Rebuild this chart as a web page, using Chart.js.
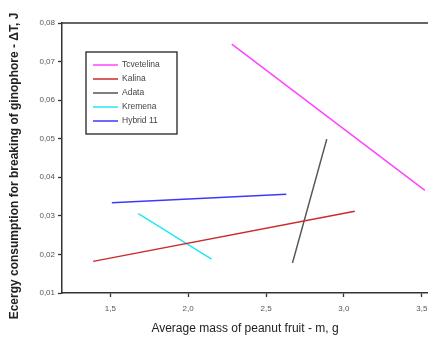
<!DOCTYPE html>
<html>
<head>
<meta charset="utf-8">
<script src="https://cdn.jsdelivr.net/npm/chart.js@4/dist/chart.umd.min.js"></script>
<style>
  html, body { margin: 0; padding: 0; background: #fff; }
  #wrap { width: 428px; height: 337px; position: relative; }
</style>
</head>
<body>
<div id="wrap"><canvas id="c"></canvas></div>
<script>
// ---- data ----
const seriesNames = ["Tcvetelina", "Kalina", "Adata", "Kremena", "Hybrid 11"];
const tcvetelinaX = [2.28, 3.52];
const tcvetelinaY = [0.0745, 0.0366];
const kalinaX = [1.39, 3.07];
const kalinaY = [0.0182, 0.0312];
const adataX = [2.67, 2.89];
const adataY = [0.0178, 0.0499];
const kremenaX = [1.68, 2.15];
const kremenaY = [0.0306, 0.0188];
const hybridX = [1.51, 2.63];
const hybridY = [0.0334, 0.0356];
const xTicks = [1.5, 2.0, 2.5, 3.0, 3.5];
const yTicks = [0.01, 0.02, 0.03, 0.04, 0.05, 0.06, 0.07, 0.08];
const xTitle = "Average mass of peanut fruit - m, g";
const yTitle = "Ecergy consumption for breaking of ginophore - \u0394T, J";

const colors = ["#ff44ff", "#cc2a2a", "#555555", "#22e8f0", "#3a3aff"];
const xs = [tcvetelinaX, kalinaX, adataX, kremenaX, hybridX];
const ys = [tcvetelinaY, kalinaY, adataY, kremenaY, hybridY];

const datasets = seriesNames.map((n, i) => ({
  label: n,
  data: xs[i].map((x, j) => ({ x: x, y: ys[i][j] })),
  borderColor: colors[i],
  backgroundColor: colors[i],
  borderWidth: 1.5,
  pointRadius: 0,
  showLine: true,
  fill: false,
  tension: 0
}));

const FONT = "'Liberation Sans', Arial, sans-serif";
const comma = (v, d) => v.toFixed(d).replace('.', ',');

const framePlugin = {
  id: 'frame',
  afterDraw(chart) {
    const { ctx, chartArea: a } = chart;
    ctx.save();
    // top border of the plot frame
    ctx.strokeStyle = '#333';
    ctx.lineWidth = 1.5;
    ctx.beginPath();
    ctx.moveTo(a.left, a.top);
    ctx.lineTo(a.right, a.top);
    ctx.stroke();
    // y axis title (rotated)
    ctx.save();
    ctx.translate(15, 166);
    ctx.rotate(-Math.PI / 2);
    ctx.font = "bold 12px " + FONT;
    ctx.fillStyle = '#222';
    ctx.textAlign = 'center';
    ctx.textBaseline = 'middle';
    ctx.fillText(yTitle, 0, 0);
    ctx.restore();
    // legend box
    const bx = 86, by = 52, bw = 91, bh = 82;
    ctx.lineWidth = 1.3;
    ctx.strokeStyle = '#222';
    ctx.strokeRect(bx, by, bw, bh);
    ctx.font = "8.5px " + FONT;
    ctx.textBaseline = 'middle';
    ctx.textAlign = 'left';
    chart.data.datasets.forEach((ds, i) => {
      const yy = by + 13 + i * 14;
      ctx.strokeStyle = ds.borderColor;
      ctx.lineWidth = 1.5;
      ctx.beginPath();
      ctx.moveTo(bx + 7, yy);
      ctx.lineTo(bx + 32, yy);
      ctx.stroke();
      ctx.fillStyle = '#444';
      ctx.fillText(ds.label, bx + 36, yy);
    });
    ctx.restore();
  }
};

new Chart(document.getElementById('c'), {
  type: 'scatter',
  data: { datasets: datasets },
  options: {
    responsive: true,
    maintainAspectRatio: false,
    animation: false,
    layout: { padding: { top: 23, right: 0, bottom: 0, left: 0 } },
    plugins: { legend: { display: false }, tooltip: { enabled: false } },
    scales: {
      x: {
        type: 'linear',
        min: 1.19,
        max: 3.54,
        afterBuildTicks: s => { s.ticks = xTicks.map(v => ({ value: v })); },
        afterFit: s => { s.height = 44; s.paddingLeft = 0; s.paddingRight = 0; },
        grid: { display: true, drawOnChartArea: false, drawTicks: true, tickLength: 4, tickColor: '#333', tickWidth: 1.3 },
        border: { display: true, color: '#333', width: 1.5 },
        ticks: { padding: 7, color: '#555', font: { family: FONT, size: 8 }, callback: v => comma(v, 1), maxRotation: 0 },
        title: { display: true, text: xTitle, color: '#222', font: { family: FONT, size: 12 }, padding: { top: 0, bottom: 1 } }
      },
      y: {
        type: 'linear',
        min: 0.01,
        max: 0.08,
        afterBuildTicks: s => { s.ticks = yTicks.map(v => ({ value: v })); },
        afterFit: s => { s.width = 62; s.paddingTop = 0; s.paddingBottom = 0; },
        grid: { display: true, drawOnChartArea: false, drawTicks: true, tickLength: 4, tickColor: '#333', tickWidth: 1.3 },
        border: { display: true, color: '#333', width: 1.5 },
        ticks: { padding: 3, color: '#555', font: { family: FONT, size: 8 }, callback: v => comma(v, 2) },
        title: { display: false }
      }
    }
  },
  plugins: [framePlugin]
});
</script>
</body>
</html>
